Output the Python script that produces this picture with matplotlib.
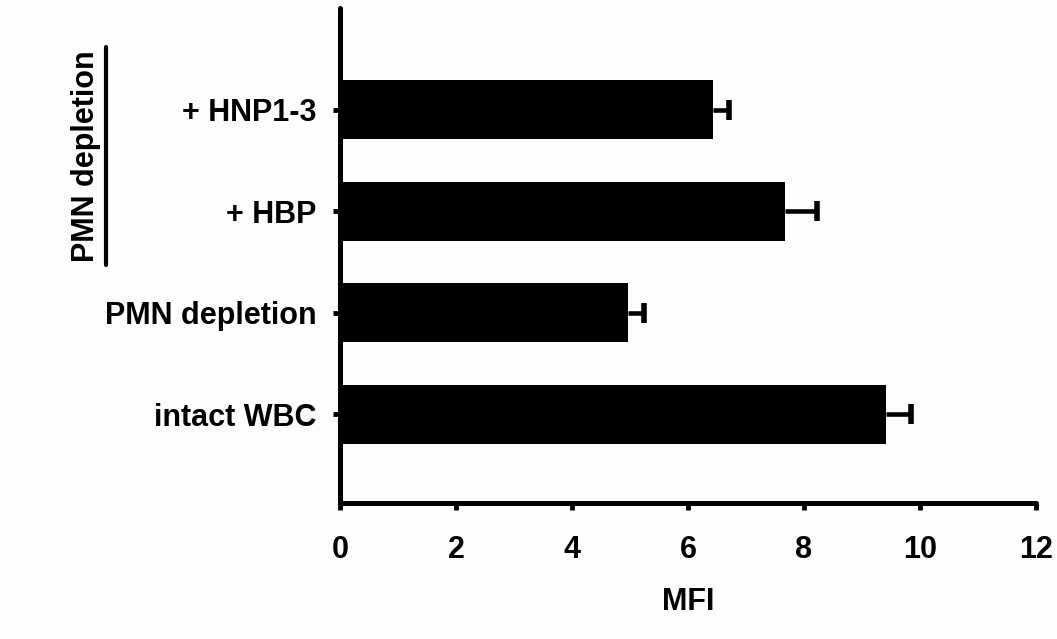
import numpy as np
import matplotlib
matplotlib.use("Agg")
import matplotlib.pyplot as plt

plt.rcParams["font.family"] = ["Liberation Sans", "DejaVu Sans"]
plt.rcParams["font.weight"] = "bold"

# data (bottom to top)
groups = ["intact WBC", "PMN depletion", "+ HBP", "+ HNP1-3"]
mfi = [9.41, 4.97, 7.67, 6.43]
sem = [0.43, 0.27, 0.56, 0.28]
xticks = [0, 2, 4, 6, 8, 10, 12]
bracket_label = "PMN depletion"

fig = plt.figure(figsize=(10.57, 6.39), dpi=100, facecolor="#fdfdfd")
ax = fig.add_axes([0.3217, 0.2128, 0.6583, 0.7747])
ax.set_facecolor("#fdfdfd")

y = np.arange(len(groups))
ax.barh(y, mfi, height=0.58, color="black", zorder=2)
# only the upper side of the error bar is shown
eb = ax.errorbar(mfi, y, xerr=[np.zeros(len(sem)), sem], fmt="none", ecolor="black",
                 elinewidth=3.3, capsize=7, capthick=4, zorder=1)
eb[1][0].set_visible(False)
eb[1][1].set_solid_capstyle("round")

ax.set_xlim(0, 12)
ax.set_ylim(-0.875, 4.0)
ax.set_xticks(xticks)
ax.set_yticks(y)
ax.set_yticklabels(groups)
ax.tick_params(axis="both", labelsize=22, width=3.5, length=5, direction="out")
ax.tick_params(axis="y", pad=12)
ax.tick_params(axis="x", pad=18)
for lab in ax.get_xticklabels() + ax.get_yticklabels():
    lab.set_fontweight("bold")

ax.spines["top"].set_visible(False)
ax.spines["right"].set_visible(False)
for s in ("left", "bottom"):
    ax.spines[s].set_linewidth(3.6)
    ax.spines[s].set_capstyle("round")

ax.set_xlabel("MFI", fontsize=22, fontweight="bold", labelpad=16)

# bracket for the PMN depletion groups
fig.add_artist(plt.Line2D([0.1003, 0.1003], [0.5853, 0.9264], transform=fig.transFigure,
                          color="black", linewidth=3, solid_capstyle="round"))
fig.text(0.081, 0.756, bracket_label, rotation=90, ha="center", va="center",
         fontsize=22, fontweight="bold")

fig.savefig("out.png", dpi=100, facecolor=fig.get_facecolor())
